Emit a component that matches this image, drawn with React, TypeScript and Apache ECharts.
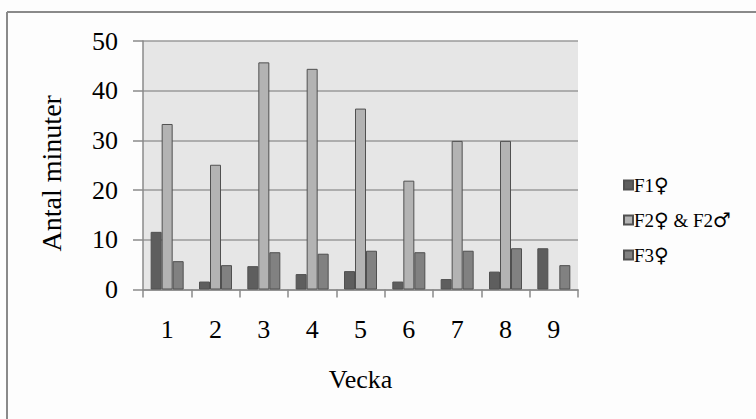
import React, { useEffect, useRef } from "react";
import * as echarts from "echarts";

const weeks = ["1", "2", "3", "4", "5", "6", "7", "8", "9"];
const seriesNames = ["F1♀", "F2♀ & F2♂", "F3♀"];
const f1Values = [11.6, 1.6, 4.7, 3.1, 3.7, 1.6, 2.1, 3.6, 8.3];
const f2Values: (number | null)[] = [33.3, 25.1, 45.7, 44.4, 36.4, 21.9, 29.9, 29.9, null];
const f3Values = [5.7, 4.9, 7.5, 7.2, 7.8, 7.5, 7.8, 8.3, 4.9];
const seriesColors = ["#5e5e5e", "#b3b3b3", "#818181"];
const yTicks = { min: 0, max: 50, interval: 10 };

const FONT = "'Liberation Serif', 'DejaVu Serif', serif";

export default function App() {
  const ref = useRef<HTMLDivElement>(null);
  useEffect(() => {
    if (!ref.current) return;
    const chart = echarts.init(ref.current, undefined, { renderer: "svg" });
    const data = [f1Values, f2Values, f3Values];
    chart.setOption({
      animation: false,
      backgroundColor: "#fdfdfd",
      textStyle: { fontFamily: FONT, color: "#000" },
      graphic: [
        { type: "line", shape: { x1: 7, y1: 12, x2: 756, y2: 12 }, style: { stroke: "#8a8a8a", lineWidth: 2 } },
        { type: "line", shape: { x1: 7, y1: 12, x2: 7, y2: 419 }, style: { stroke: "#8a8a8a", lineWidth: 2 } },
      ],
      grid: {
        left: 143,
        right: 178,
        top: 41,
        bottom: 129.5,
        show: true,
        backgroundColor: "#e6e6e6",
        borderWidth: 0,
      },
      legend: {
        orient: "vertical",
        left: 618,
        top: 170,
        itemWidth: 9,
        itemHeight: 9,
        itemGap: 15,
        icon: "rect",
        data: seriesNames,
        formatter: (name: string) => {
          const parts = name.split(/([♀♂])/).filter((p) => p.length > 0);
          return parts.map((p) => (p === "♀" || p === "♂" ? `{s|${p}}` : `{t|${p}}`)).join("");
        },
        textStyle: {
          fontFamily: FONT,
          fontSize: 19,
          color: "#000",
          padding: [0, 0, 0, -4],
          rich: {
            t: { fontFamily: FONT, fontSize: 19, color: "#000" },
            s: { fontFamily: "'DejaVu Sans'", fontSize: 20, color: "#000" },
          },
        },
      },
      xAxis: {
        type: "category",
        data: weeks,
        name: "Vecka",
        nameLocation: "middle",
        nameGap: 77,
        nameTextStyle: { fontFamily: FONT, fontSize: 26, color: "#000" },
        axisLine: { lineStyle: { color: "#8a8a8a", width: 1.5 } },
        axisTick: { show: true, length: 8, lineStyle: { color: "#8a8a8a", width: 1.5 } },
        axisLabel: { fontFamily: FONT, fontSize: 26, color: "#000", margin: 27 },
      },
      yAxis: {
        type: "value",
        min: yTicks.min,
        max: yTicks.max,
        interval: yTicks.interval,
        name: "Antal minuter",
        nameLocation: "middle",
        nameGap: 78,
        nameTextStyle: { fontFamily: FONT, fontSize: 28, color: "#000", padding: [0, 16, 0, 0] },
        axisLine: { show: true, lineStyle: { color: "#8a8a8a", width: 1.5 } },
        axisTick: { show: true, length: 10, lineStyle: { color: "#8a8a8a", width: 1.5 } },
        axisLabel: { fontFamily: FONT, fontSize: 26, color: "#000", margin: 25 },
        splitLine: { show: true, lineStyle: { color: "#9a9a9a", width: 1.5 } },
      },
      series: seriesNames.map((name, i) => ({
        name,
        type: "bar",
        data: data[i],
        barWidth: 11,
        barGap: "0%",
        itemStyle: { color: seriesColors[i], borderColor: "#505050", borderWidth: 1 },
      })),
    });
    return () => chart.dispose();
  }, []);
  return (
    <div
      ref={ref}
      style={{ position: "fixed", left: 0, top: 0, width: 756, height: 419 }}
    />
  );
}
